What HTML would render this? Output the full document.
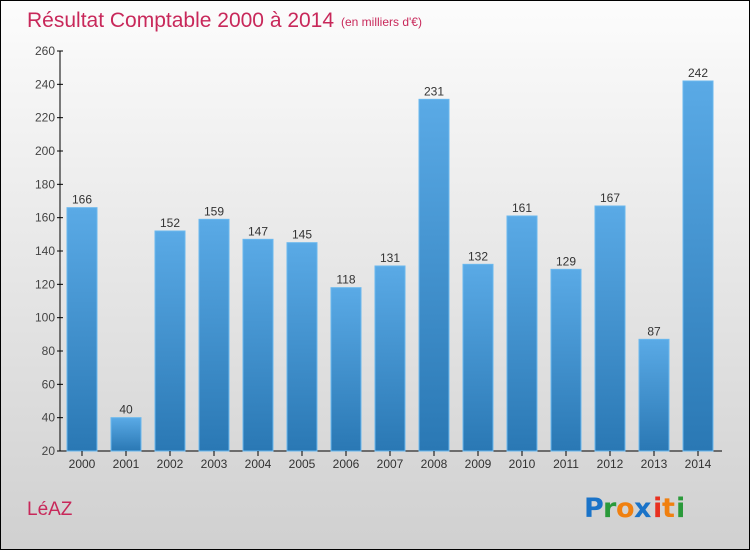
<!DOCTYPE html>
<html><head><meta charset="utf-8"><style>
body{margin:0;width:750px;height:550px;overflow:hidden;font-family:"Liberation Sans",sans-serif}
#wrap{position:absolute;left:0;top:0;width:748px;height:548px;border:1px solid #000;background:linear-gradient(#fcfcfc,#d0d0d0)}
</style></head><body>
<div id="wrap">
<svg id="chart" width="748" height="548">
<defs><linearGradient id="bg" x1="0" y1="0" x2="0" y2="1"><stop offset="0" stop-color="#5aaae6"/><stop offset="1" stop-color="#2a78b4"/></linearGradient></defs>
<text x="26" y="26" font-size="21" fill="#c8285a">Résultat Comptable 2000 à 2014</text>
<text x="340" y="25" font-size="12" fill="#c8285a">(en milliers d'€)</text>
<text x="26" y="514" font-size="19" fill="#c8285a">LéAZ</text>
<g font-size="27" font-family="'DejaVu Sans',sans-serif" font-weight="bold">
<text x="583" y="516" fill="#1a73c8">P</text><text x="602" y="516" fill="#2a9a3a">r</text><text x="615" y="516" fill="#f08010">o</text><text x="633" y="516" fill="#1a73c8">x</text><text x="652" y="516" fill="#e83020">i</text><text x="661" y="516" fill="#f08010">t</text><text x="675" y="516" fill="#2a9a3a">i</text></g>
<g id="plot"></g>
</svg></div>
<script>
const years=["2000","2001","2002","2003","2004","2005","2006","2007","2008","2009","2010","2011","2012","2013","2014"];
const values=[166,40,152,159,147,145,118,131,231,132,161,129,167,87,242];
const yTicks=[20,40,60,80,100,120,140,160,180,200,220,240,260];
const NS="http://www.w3.org/2000/svg";
const g=document.getElementById('plot');
const y=v=>450-(v-20)*(400/240);
const xc=i=>81+44*i;
function mk(t,a){const e=document.createElementNS(NS,t);for(const k in a)e.setAttribute(k,a[k]);g.appendChild(e);return e;}
let ax=mk('line',{x1:59,y1:y(260),x2:59,y2:450,stroke:'#000'});


let bx=mk('line',{x1:59,y1:450,x2:721,y2:450,stroke:'#000'});


yTicks.forEach(v=>{
 mk('line',{x1:56,y1:y(v),x2:62,y2:y(v),stroke:'#000'});
 let t=mk('text',{x:54,y:y(v)+4,'font-size':12,fill:'#444','text-anchor':'end'});t.textContent=v;
 
 
});
years.forEach((yr,i)=>{
 let r=mk('rect',{x:xc(i)-15,y:y(values[i]),width:30,height:450-y(values[i]),fill:'url(#bg)',stroke:'#6ab8ee','stroke-width':1});
 
 
 mk('line',{x1:xc(i),y1:450,x2:xc(i),y2:455,stroke:'#000'});
 let t=mk('text',{x:xc(i),y:467,'font-size':12,fill:'#333','text-anchor':'middle'});t.textContent=yr;
 
 
 let l=mk('text',{x:xc(i),y:y(values[i])-4,'font-size':12,fill:'#333','text-anchor':'middle'});l.textContent=values[i];
 
 
});
</script>
</body></html>
